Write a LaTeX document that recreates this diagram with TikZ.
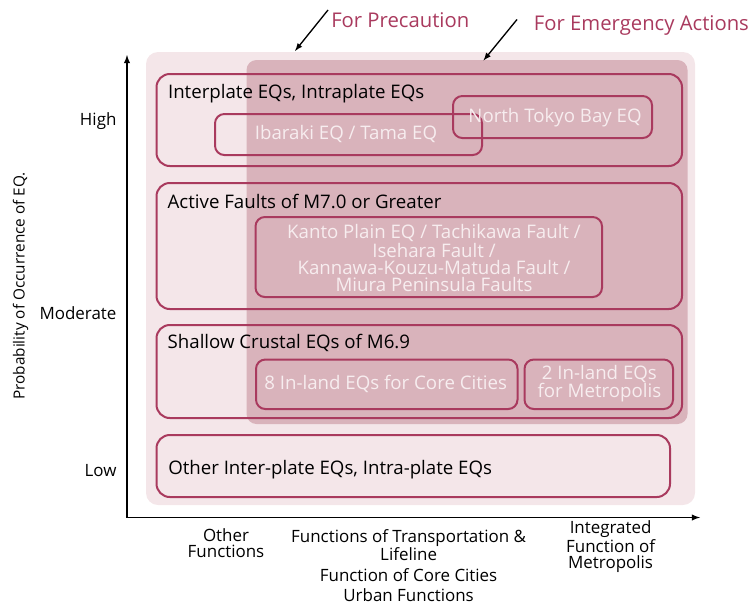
\documentclass[tikz,border=0pt]{standalone}
\usepackage{fontspec}
\setmainfont{Open Sans}
\usetikzlibrary{fit}
\definecolor{zonelight}{HTML}{F4E6E9}
\definecolor{zonedark}{HTML}{D9B3BB}
\definecolor{eqline}{HTML}{A93A5E}
\definecolor{eqtext}{HTML}{F7EDEF}
\begin{document}
\begin{tikzpicture}[x=0.75pt,y=-0.75pt,
   font=\fontsize{14}{13.5}\selectfont,
   zone/.style={inner sep=0pt,rounded corners=9pt},
   eqbox/.style={draw=eqline,line width=1.5pt,inner sep=0pt,rounded corners=10pt},
   subbox/.style={draw=eqline,line width=1.5pt,inner sep=0pt,rounded corners=7pt},
   title/.style={anchor=west,inner sep=0pt},
   inner/.style={text=eqtext,align=center,inner sep=0pt},
   axis/.style={line width=1.1pt,-latex},
   level/.style={anchor=east,inner sep=0pt,font=\fontsize{12.7}{12.5}\selectfont},
   func/.style={align=center,inner sep=0pt,font=\fontsize{12.7}{12.5}\selectfont}]
   \useasboundingbox (0,0) rectangle (755,604);
   % zones
   \node (precaution) [zone,fill=zonelight,fit={(146,52) (695,505)}] {};
   \node (emergency)  [zone,fill=zonedark,rounded corners=7.5pt,fit={(246.5,60) (687.5,424)}] {};
   % earthquake boxes
   \node (interplate) [eqbox,fit={(156.5,74) (682,166)}] {};
   \node (ibaraki)    [subbox,fit={(215,114) (482,155)}] {};
   \node (northtokyo) [subbox,fit={(453,96) (652,138)}] {};
   \node (faults)     [eqbox,fit={(156.5,183) (682,309)}] {};
   \node (kanto)      [subbox,fit={(255.5,217) (602,297)}] {};
   \node (shallow)    [eqbox,fit={(156.5,325) (682,418)}] {};
   \node (inland8)    [subbox,fit={(256,359.5) (517.5,409)}] {};
   \node (inland2)    [subbox,fit={(524.5,359.5) (673,409)}] {};
   \node (otherplate) [eqbox,fit={(156.5,435) (670,497)}] {};
   % texts
   \node (tinterplate) at (167.8,94)  [title] {Interplate EQs, Intraplate EQs};
   \node (tfaults)     at (167.4,201) [title] {Active Faults of M7.0 or Greater};
   \node (tshallow)    at (167.4,343) [title] {Shallow Crustal EQs of M6.9};
   \node (tother)      at (168,469.5) [title] {Other Inter-plate EQs, Intra-plate EQs};
   \node (tibaraki)    at (346,134)   [inner] {Ibaraki EQ / Tama EQ};
   \node (tnorthtokyo) at (555,117.5) [inner] {North Tokyo Bay EQ};
   \node (tkanto)      at (434,258)   [inner,font=\fontsize{14}{12.75}\selectfont] {Kanto Plain EQ / Tachikawa Fault /\\Isehara Fault /\\Kannawa-Kouzu-Matuda Fault /\\Miura Peninsula Faults};
   \node (tinland8)    at (385.7,383.5) [inner] {8 In-land EQs for Core Cities};
   \node (tinland2)    at (599.4,384) [inner] {2 In-land EQs\\for Metropolis};
   % zone labels
   \node (lprecaution) at (331,20)    [title,text=eqline,font=\fontsize{15.2}{16}\selectfont] {For Precaution};
   \node (lemergency)  at (533.7,25.5) [title,text=eqline,font=\fontsize{15.2}{16}\selectfont] {For Emergency Actions};
   \coordinate (pfrom) at (328,10);
   \coordinate (pto)   at (295,51);
   \coordinate (efrom) at (517,19.5);
   \coordinate (eto)   at (483.5,60.5);
   \draw[line width=1pt,-latex] (pfrom) -- (pto);
   \draw[line width=1pt,-latex] (efrom) -- (eto);
   % axes
   \coordinate (origin) at (127,517.5);
   \coordinate (ytip)   at (127,55);
   \coordinate (xtip)   at (700,517.5);
   \draw[axis] (origin) -- (ytip);
   \draw[axis] (origin) -- (xtip);
   \node (high)     at (116.7,121) [level] {High};
   \node (moderate) at (116.7,313) [level] {Moderate};
   \node (low)      at (116.7,471) [level] {Low};
   \node (yname)    at (20.7,286)  [rotate=90,inner sep=0pt,font=\fontsize{11.5}{12}\selectfont] {Probability of Occurrence of EQ.};
   \node (fother)   at (226,543)   [func] {Other\\Functions};
   \node (ftrans)   at (408.6,545) [func] {Functions of Transportation \&\\Lifeline};
   \node (fcore)    at (408.6,575) [func] {Function of Core Cities};
   \node (furban)   at (408.6,595) [func] {Urban Functions};
   \node (fmetro)   at (610.6,547) [func] {Integrated\\Function of\\Metropolis};
\end{tikzpicture}
\end{document}
